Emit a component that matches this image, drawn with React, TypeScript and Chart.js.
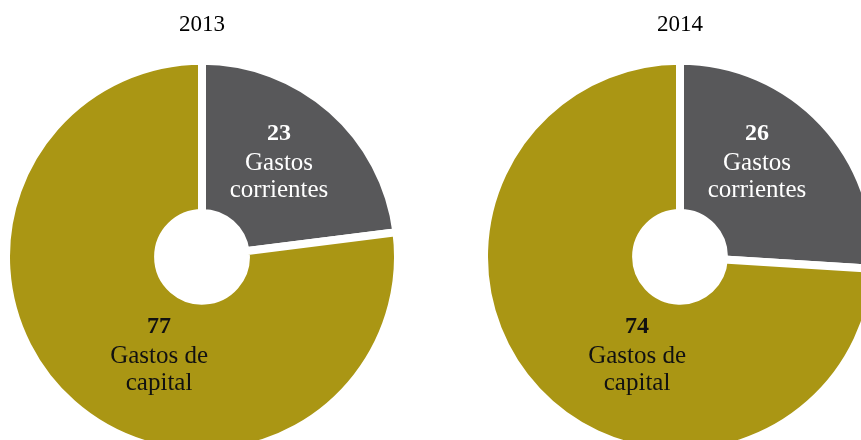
import React, { useEffect, useRef } from "react";
import { Chart, registerables } from "chart.js";

Chart.register(...registerables);

const years = ["2013", "2014"];
const categories = ["Gastos corrientes", "Gastos de capital"];
const categoryLines = [["Gastos", "corrientes"], ["Gastos de", "capital"]];
const corrientes = [23, 26];
const capital = [77, 74];

const colors = ["#58585A", "#AA9614"];
const textColors = ["#FFFFFF", "#111111"];
// label anchor (middle line baseline) as fraction of outer radius
const labelAnchors = [
  [0.393, -0.445],
  [-0.219, 0.541],
];
const FONT = "'Liberation Serif', 'Times New Roman', serif";

const labelPlugin = {
  id: "sliceLabels",
  afterDatasetsDraw(chart: any) {
    const ctx = chart.ctx;
    const meta = chart.getDatasetMeta(0);
    const data = chart.data.datasets[0].data;
    meta.data.forEach((arc: any, i: number) => {
      const R = arc.outerRadius;
      const ax = arc.x + labelAnchors[i][0] * R;
      const ay = arc.y + labelAnchors[i][1] * R;
      ctx.save();
      ctx.fillStyle = textColors[i];
      ctx.textAlign = "center";
      ctx.textBaseline = "alphabetic";
      ctx.font = `bold 24px ${FONT}`;
      ctx.fillText(String(data[i]), ax, ay - 30);
      ctx.font = `25px ${FONT}`;
      ctx.fillText(categoryLines[i][0], ax, ay);
      ctx.fillText(categoryLines[i][1], ax, ay + 27);
      ctx.restore();
    });
  },
};

function Donut({ idx, left }: { idx: number; left: number }) {
  const ref = useRef<HTMLCanvasElement>(null);
  useEffect(() => {
    if (!ref.current) return;
    const chart = new Chart(ref.current, {
      type: "doughnut",
      data: {
        labels: categories,
        datasets: [
          {
            data: [corrientes[idx], capital[idx]],
            backgroundColor: colors,
            borderColor: "#FFFFFF",
            borderWidth: 8,
            borderJoinStyle: "miter",
          } as any,
        ],
      },
      options: {
        responsive: false,
        animation: false,
        cutout: "22.4%",
        rotation: 0,
        layout: { padding: 0 },
        plugins: {
          legend: { display: false },
          tooltip: { enabled: false },
          title: {
            display: true,
            text: years[idx],
            color: "#000000",
            font: { family: FONT, size: 23, weight: "normal" as any, lineHeight: 1.2 },
            padding: { top: 11, bottom: 18 },
          },
        },
      },
      plugins: [labelPlugin],
    });
    return () => chart.destroy();
  }, [idx]);
  return (
    <canvas
      ref={ref}
      width={400}
      height={457}
      style={{ position: "absolute", left, top: 0, width: 400, height: 457 }}
    />
  );
}

export default function App() {
  return (
    <div
      style={{
        position: "fixed",
        left: 0,
        top: 0,
        width: 861,
        height: 440,
        overflow: "hidden",
        background: "#FFFFFF",
      }}
    >
      <Donut idx={0} left={2} />
      <Donut idx={1} left={480} />
    </div>
  );
}
